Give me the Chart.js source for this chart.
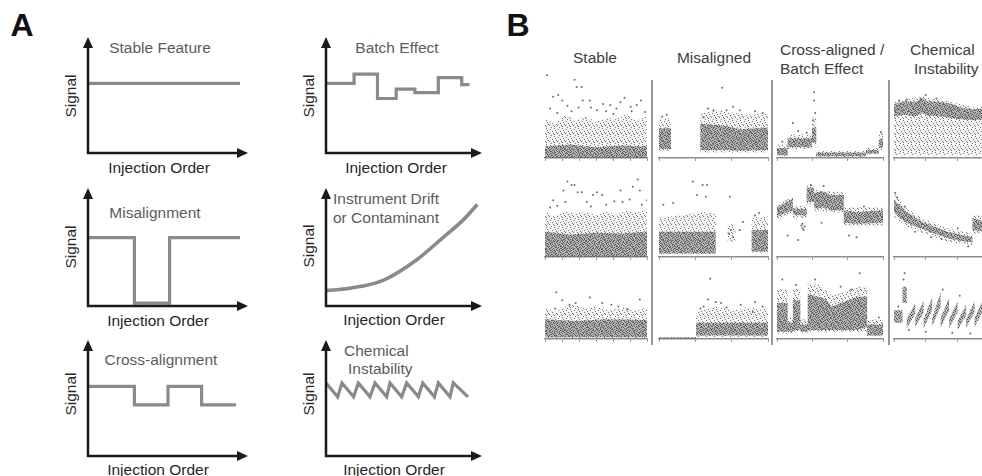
<!DOCTYPE html>
<html>
<head>
<meta charset="utf-8">
<script src="https://cdn.jsdelivr.net/npm/chart.js@4.4.0/dist/chart.umd.min.js"></script>
<style>
html, body { margin: 0; padding: 0; background: #fff; }
body { position: relative; width: 982px; height: 476px; overflow: hidden; font-family: "Liberation Sans", Arial, sans-serif; }
canvas { position: absolute; }
.lbl { position: absolute; white-space: nowrap; line-height: 1; font-size: 15.5px; color: #262626; transform: translate(-50%, -50%); }
.left { transform: translate(0, -50%); }
.ttl { color: #5c5c5c; }
.rot { transform: translate(-50%, -50%) rotate(-90deg); }
.big { font-size: 32px; font-weight: bold; color: #111; }
.sep { position: absolute; width: 2px; background: #969696; top: 80px; height: 265px; }
.hdr { color: #404040; }
</style>
</head>
<body>

<div class="lbl big" style="left:22px;top:25px">A</div>
<div class="lbl big" style="left:518px;top:25px">B</div>

<!-- panel A labels -->
<div class="lbl ttl" style="left:160px;top:48px">Stable Feature</div>
<div class="lbl ttl" style="left:397px;top:48px">Batch Effect</div>
<div class="lbl ttl" style="left:155px;top:213px">Misalignment</div>
<div class="lbl ttl left" style="left:333px;top:199px">Instrument Drift</div>
<div class="lbl ttl left" style="left:333px;top:218px">or Contaminant</div>
<div class="lbl ttl" style="left:161px;top:360px">Cross-alignment</div>
<div class="lbl ttl left" style="left:344px;top:351px">Chemical</div>
<div class="lbl ttl left" style="left:348px;top:369px">Instability</div>

<div class="lbl rot" style="left:71px;top:96px">Signal</div>
<div class="lbl rot" style="left:309px;top:96px">Signal</div>
<div class="lbl rot" style="left:71px;top:247px">Signal</div>
<div class="lbl rot" style="left:309px;top:246px">Signal</div>
<div class="lbl rot" style="left:71px;top:394px">Signal</div>
<div class="lbl rot" style="left:309px;top:394px">Signal</div>

<div class="lbl" style="left:159px;top:168px">Injection Order</div>
<div class="lbl" style="left:396px;top:168px">Injection Order</div>
<div class="lbl" style="left:158px;top:321px">Injection Order</div>
<div class="lbl" style="left:394px;top:320px">Injection Order</div>
<div class="lbl" style="left:158px;top:470px">Injection Order</div>
<div class="lbl" style="left:394px;top:470px">Injection Order</div>

<!-- panel B headers -->
<div class="lbl hdr" style="left:595px;top:58px">Stable</div>
<div class="lbl hdr" style="left:714px;top:58px">Misaligned</div>
<div class="lbl hdr left" style="left:780px;top:50px">Cross-aligned /</div>
<div class="lbl hdr left" style="left:780px;top:69px">Batch Effect</div>
<div class="lbl hdr left" style="left:910px;top:50px">Chemical</div>
<div class="lbl hdr left" style="left:914px;top:69px">Instability</div>

<div class="sep" style="left:651px"></div>
<div class="sep" style="left:771px"></div>
<div class="sep" style="left:888px"></div>

<script>
// ---- panel A: schematic traces (x, y in 0..100 of each axis box)
const stableX = [0, 95];
const stableY = [60, 60];
const batchX = [0, 18, 33, 45, 57, 72, 87, 92];
const batchY = [60, 68, 47, 55, 52, 65, 59, 59];
const misX = [0, 29, 51, 95];
const misY = [58, 2.5, 58, 58];
const driftX = [0, 15, 37, 58, 75, 88, 97];
const driftY = [13, 15, 22, 39, 58, 73, 86];
const crossX = [0, 29, 50, 71, 92.5];
const crossY = [60, 44, 60, 44, 44];
const chemX = [0, 7.5, 10.2, 17.7, 20.7, 28.2, 31.4, 38.9, 41, 48.5, 51.7, 59.2, 62, 69.5, 72, 79.5, 81.6, 91];
const chemY = [63, 51, 63, 51, 63, 51, 63, 51, 63, 51, 63, 51, 63, 51, 63, 51, 63, 51];

// ---- panel B: [injection order, low, high] of the dense cloud, its sparse halo, and stray points [x, y]
const stableRow1Core = [[0,0,13],[25,0,15],[50,0,12],[75,0,14],[100,0,13]];
const stableRow1Halo = [[0,0,44],[10,0,38],[20,0,48],[30,0,42],[40,0,47],[50,0,40],[60,0,45],[70,0,43],[80,0,49],[90,0,41],[100,0,47]];
const stableRow1Dots = [[2,92],[29,87],[31,79],[36,79],[8,68],[13,70],[37,64],[44,64],[78,67],[64,59],[90,59],[98,51],[51,53],[17,64],[5,55],[22,58],[26,52],[45,56],[57,60],[70,55],[74,62],[84,57],[94,64],[60,52],[33,56],[12,50],[85,52],[67,49]];
const misRow1Core = [[0,10,33],[11,10,33],[11,0,0],[38,0,0],[38,9,38],[60,9,36],[75,8,32],[100,9,34]];
const misRow1Halo = [[0,8,44],[11,8,44],[11,0,0],[38,0,0],[38,6,50],[55,6,53],[80,6,48],[100,6,50]];
const misRow1Dots = [[58,78],[50,53],[74,53],[62,53],[3,46],[7,48],[45,55],[68,57],[88,52],[95,50],[41,45]];
const crossRow1Core = [[0,3,11],[10,3,11],[10,12,22],[33,12,22],[33,17,34],[37,17,34],[37,2,6],[84,2,6],[84,5,9],[96,5,9],[96,11,20],[100,11,22]];
const crossRow1Halo = [[0,2,15],[10,2,15],[10,10,26],[33,10,26],[33,15,45],[37,15,45],[37,1,8],[84,1,8],[84,4,11],[96,4,11],[96,9,26],[100,9,29]];
const crossRow1Dots = [[15,39],[35,73],[35,64],[34,42],[36,50],[98,29],[20,30],[5,18],[28,28]];
const chemRow1Core = [[0,46,60],[10,48,63],[20,46,62],[27,50,67],[32,47,63],[45,46,62],[55,44,60],[63,43,56],[75,42,54],[90,43,56],[100,44,57]];
const chemRow1Halo = [[0,3,62],[27,3,69],[55,3,62],[75,3,56],[100,3,58]];
const chemRow1Dots = [[30,70],[25,66],[12,65],[40,66],[5,64]];

const stableRow2Core = [[0,0,28],[25,0,25],[50,0,27],[75,0,26],[100,0,28]];
const stableRow2Halo = [[0,0,50],[10,0,45],[20,0,52],[30,0,48],[40,0,50],[50,0,46],[60,0,50],[70,0,47],[80,0,52],[90,0,49],[100,0,53]];
const stableRow2Dots = [[22,84],[26,80],[29,80],[18,74],[32,72],[36,72],[51,72],[56,69],[47,69],[91,86],[86,78],[74,74],[93,74],[100,63],[8,63],[76,61],[20,61],[41,61],[12,57],[60,58],[68,62],[83,64],[95,58],[5,55],[45,56]];
const misRow2Core = [[0,4,28],[52,4,28],[52,0,0],[85,0,0],[85,6,30],[100,6,30]];
const misRow2Halo = [[0,3,44],[20,3,46],[40,3,50],[52,3,48],[52,0,0],[63,0,0],[63,17,36],[70,17,36],[70,0,0],[85,0,0],[85,5,44],[100,5,45]];
const misRow2Dots = [[31,84],[40,80],[44,80],[35,69],[43,67],[4,58],[13,60],[65,67],[77,39],[66,30],[68,22],[64,26],[92,49],[88,46],[74,30]];
const crossRow2Core = [[0,45,55],[15,52,65],[15,47,54],[28,46,53],[28,61,77],[35,61,77],[35,54,71],[42,55,73],[49,54,70],[49,52,69],[63,52,69],[63,38,52],[75,37,50],[100,38,52]];
const crossRow2Halo = [[0,42,58],[15,49,68],[15,44,57],[28,43,57],[28,58,80],[35,58,80],[35,51,75],[49,50,73],[63,49,72],[63,35,55],[100,35,55]];
const crossRow2Dots = [[10,24],[20,19],[42,38],[68,24],[75,22],[82,56],[44,79],[32,80],[23,35],[24,32],[25,30],[24,37],[26,34]];
const chemRow2Core = [[0,50,63],[5,44,58],[12,38,50],[20,34,44],[27,31,39],[38,26,34],[50,21,28],[62,18,25],[74,16,22],[74,30,43],[85,28,40],[100,27,38]];
const chemRow2Halo = [[0,45,72],[5,40,63],[12,34,54],[27,27,43],[50,17,32],[74,13,26],[74,26,47],[100,24,42]];
const chemRow2Dots = [[1,71],[3,66],[10,56],[20,28],[35,22],[60,32],[45,20],[70,12]];

const stableRow3Core = [[0,2,22],[30,2,20],[60,2,22],[100,2,21]];
const stableRow3Halo = [[0,1,34],[10,1,30],[20,1,36],[30,1,38],[40,1,33],[50,1,36],[60,1,32],[70,1,34],[80,1,35],[90,1,31],[100,1,36]];
const stableRow3Dots = [[11,52],[17,43],[44,46],[56,40],[93,44],[81,33],[30,40],[10,34],[24,38],[65,38],[72,36]];
const misRow3Core = [[0,0,2],[34,0,2],[34,4,18],[100,4,18]];
const misRow3Halo = [[0,0,0],[34,0,0],[34,2,30],[50,2,36],[70,2,32],[85,2,35],[100,2,33]];
const misRow3Dots = [[47,67],[45,44],[52,41],[57,40],[41,36],[75,38],[86,30],[88,41],[38,34],[62,35],[95,36]];
const crossRow3Core = [[0,8,40],[10,8,40],[10,8,18],[15,8,18],[15,10,43],[22,10,43],[22,8,16],[29,8,16],[29,10,50],[45,10,45],[52,10,36],[60,10,40],[76,10,47],[85,13,47],[85,4,16],[100,4,16]];
const crossRow3Halo = [[0,6,55],[10,6,55],[10,6,24],[15,6,24],[15,8,56],[22,8,56],[22,6,22],[29,6,22],[29,8,62],[40,8,60],[52,8,48],[62,8,52],[76,8,58],[85,8,58],[85,3,21],[100,3,22]];
const crossRow3Dots = [[78,73],[5,66],[18,60],[36,66],[60,58],[70,55],[96,24]];
const chemRow3Core = [[0,18,32],[8,18,32],[8,40,58],[12,40,58],[12,12,22],[20,28,40],[20,13,23],[28,30,42],[28,12,22],[36,32,46],[36,14,24],[44,36,52],[44,13,23],[52,32,46],[52,12,22],[60,30,42],[60,10,20],[68,26,38],[68,12,22],[76,30,42],[76,13,23],[84,32,44],[84,12,22],[92,30,42],[92,13,23],[100,30,42]];
const chemRow3Halo = [];
const chemRow3Dots = [[10,73],[9,66],[4,36],[14,10],[30,8],[46,55],[55,7],[62,48],[72,6]];

function addCanvas(left, top, width, height) {
  const c = document.createElement('canvas');
  c.width = width;
  c.height = height;
  c.style.left = left + 'px';
  c.style.top = top + 'px';
  document.body.appendChild(c);
  return c;
}

// grainy fill so the clouds read as many tiny points
function speckle(size, bg, ink, spots) {
  const t = document.createElement('canvas');
  t.width = size;
  t.height = size;
  const g = t.getContext('2d');
  if (bg) {
    g.fillStyle = bg;
    g.fillRect(0, 0, size, size);
  }
  g.fillStyle = ink;
  spots.forEach(s => g.fillRect(s[0], s[1], 1, 1));
  return g.createPattern(t, 'repeat');
}
const coreFill = speckle(7, 'rgba(125,125,125,0.55)', '#555',
  [[0,0],[3,0],[5,1],[1,2],[4,2],[6,3],[2,3],[0,4],[3,5],[5,5],[1,6],[6,6],[4,4],[2,1]]);
const haloFill = speckle(8, 'rgba(150,150,150,0.10)', 'rgba(95,95,95,0.85)',
  [[1,1],[5,0],[3,3],[7,4],[0,5],[5,6],[2,7],[6,2],[4,5]]);

// axes with arrow heads for the schematic plots
const arrowAxes = {
  id: 'arrowAxes',
  afterDraw(chart) {
    const ctx = chart.ctx, a = chart.chartArea;
    ctx.save();
    ctx.strokeStyle = '#1a1a1a';
    ctx.fillStyle = '#1a1a1a';
    ctx.lineWidth = 2.5;
    ctx.beginPath();
    ctx.moveTo(a.left, a.bottom + 1.25);
    ctx.lineTo(a.left, a.top + 8);
    ctx.moveTo(a.left - 1.25, a.bottom);
    ctx.lineTo(a.right - 8, a.bottom);
    ctx.stroke();
    ctx.beginPath();
    ctx.moveTo(a.left, a.top);
    ctx.lineTo(a.left - 5, a.top + 11);
    ctx.lineTo(a.left + 5, a.top + 11);
    ctx.closePath();
    ctx.fill();
    ctx.beginPath();
    ctx.moveTo(a.right, a.bottom);
    ctx.lineTo(a.right - 11, a.bottom - 5);
    ctx.lineTo(a.right - 11, a.bottom + 5);
    ctx.closePath();
    ctx.fill();
    ctx.restore();
  }
};

// box = [axis x, axis y, arrow tip x, arrow tip y]
function schematic(box, xs, ys, extra) {
  const c = addCanvas(box[0] - 8, box[3] - 4, box[2] - box[0] + 14, box[1] - box[3] + 12);
  const ds = Object.assign({
    data: xs.map((x, i) => ({x: x, y: ys[i]})),
    borderColor: '#8a8a8a',
    borderWidth: 3.2,
    pointRadius: 0,
    fill: false
  }, extra);
  new Chart(c, {
    type: 'line',
    data: {datasets: [ds]},
    options: {
      responsive: false,
      animation: false,
      events: [],
      layout: {padding: {left: 8, top: 4, right: 6, bottom: 8}},
      plugins: {legend: {display: false}, tooltip: {enabled: false}},
      scales: {
        x: {type: 'linear', display: false, min: 0, max: 100},
        y: {display: false, min: 0, max: 100}
      }
    },
    plugins: [arrowAxes]
  });
}

schematic([88, 153, 248, 37], stableX, stableY, {});
schematic([326, 153, 482, 37], batchX, batchY, {stepped: 'before'});
schematic([88, 306, 248, 188], misX, misY, {stepped: 'before'});
schematic([326, 306, 482, 188], driftX, driftY, {cubicInterpolationMode: 'monotone', borderWidth: 3.6});
schematic([88, 456, 248, 340], crossX, crossY, {stepped: 'before'});
schematic([326, 456, 482, 340], chemX, chemY, {});

function bandSets(rows, fillStyle) {
  if (!rows.length) return [];
  return [
    {data: rows.map(r => ({x: r[0], y: r[2]})), fill: '+1', backgroundColor: fillStyle,
     borderColor: 'transparent', borderWidth: 0, pointRadius: 0},
    {data: rows.map(r => ({x: r[0], y: r[1]})), fill: false,
     borderColor: 'transparent', borderWidth: 0, pointRadius: 0}
  ];
}

function scatterPanel(x0, x1, axisY, core, halo, dots, ticks) {
  const c = addCanvas(x0 - 4, axisY - 94, x1 - x0 + 8, 99);
  const datasets = [].concat(
    bandSets(halo, haloFill),
    bandSets(core, coreFill),
    [{data: dots.map(d => ({x: d[0], y: d[1]})), showLine: false, pointRadius: 1,
      pointBorderWidth: 0, pointBackgroundColor: '#6a6a6a'}]
  );
  new Chart(c, {
    type: 'line',
    data: {datasets: datasets},
    options: {
      responsive: false,
      animation: false,
      events: [],
      layout: {padding: {left: 4, top: 4, right: 4, bottom: 2}},
      plugins: {legend: {display: false}, tooltip: {enabled: false}},
      scales: {
        x: {type: 'linear', min: 0, max: 100,
            ticks: Object.assign({display: false}, ticks),
            grid: {drawOnChartArea: false, tickLength: 3, color: '#999'},
            border: {color: '#8c8c8c', width: 1.5}},
        y: {display: false, min: 0, max: 100}
      }
    }
  });
}

const cols = [[545, 647, {count: 7}], [659, 768, {count: 4}], [777, 883, {count: 4}], [894, 1000, {stepSize: 30}]];
const rowsY = [158, 257, 339];
const panels = [
  [stableRow1Core, stableRow1Halo, stableRow1Dots], [misRow1Core, misRow1Halo, misRow1Dots],
  [crossRow1Core, crossRow1Halo, crossRow1Dots], [chemRow1Core, chemRow1Halo, chemRow1Dots],
  [stableRow2Core, stableRow2Halo, stableRow2Dots], [misRow2Core, misRow2Halo, misRow2Dots],
  [crossRow2Core, crossRow2Halo, crossRow2Dots], [chemRow2Core, chemRow2Halo, chemRow2Dots],
  [stableRow3Core, stableRow3Halo, stableRow3Dots], [misRow3Core, misRow3Halo, misRow3Dots],
  [crossRow3Core, crossRow3Halo, crossRow3Dots], [chemRow3Core, chemRow3Halo, chemRow3Dots]
];
panels.forEach((p, i) => {
  const col = cols[i % 4];
  scatterPanel(col[0], col[1], rowsY[Math.floor(i / 4)], p[0], p[1], p[2], col[2]);
});
</script>
</body>
</html>
